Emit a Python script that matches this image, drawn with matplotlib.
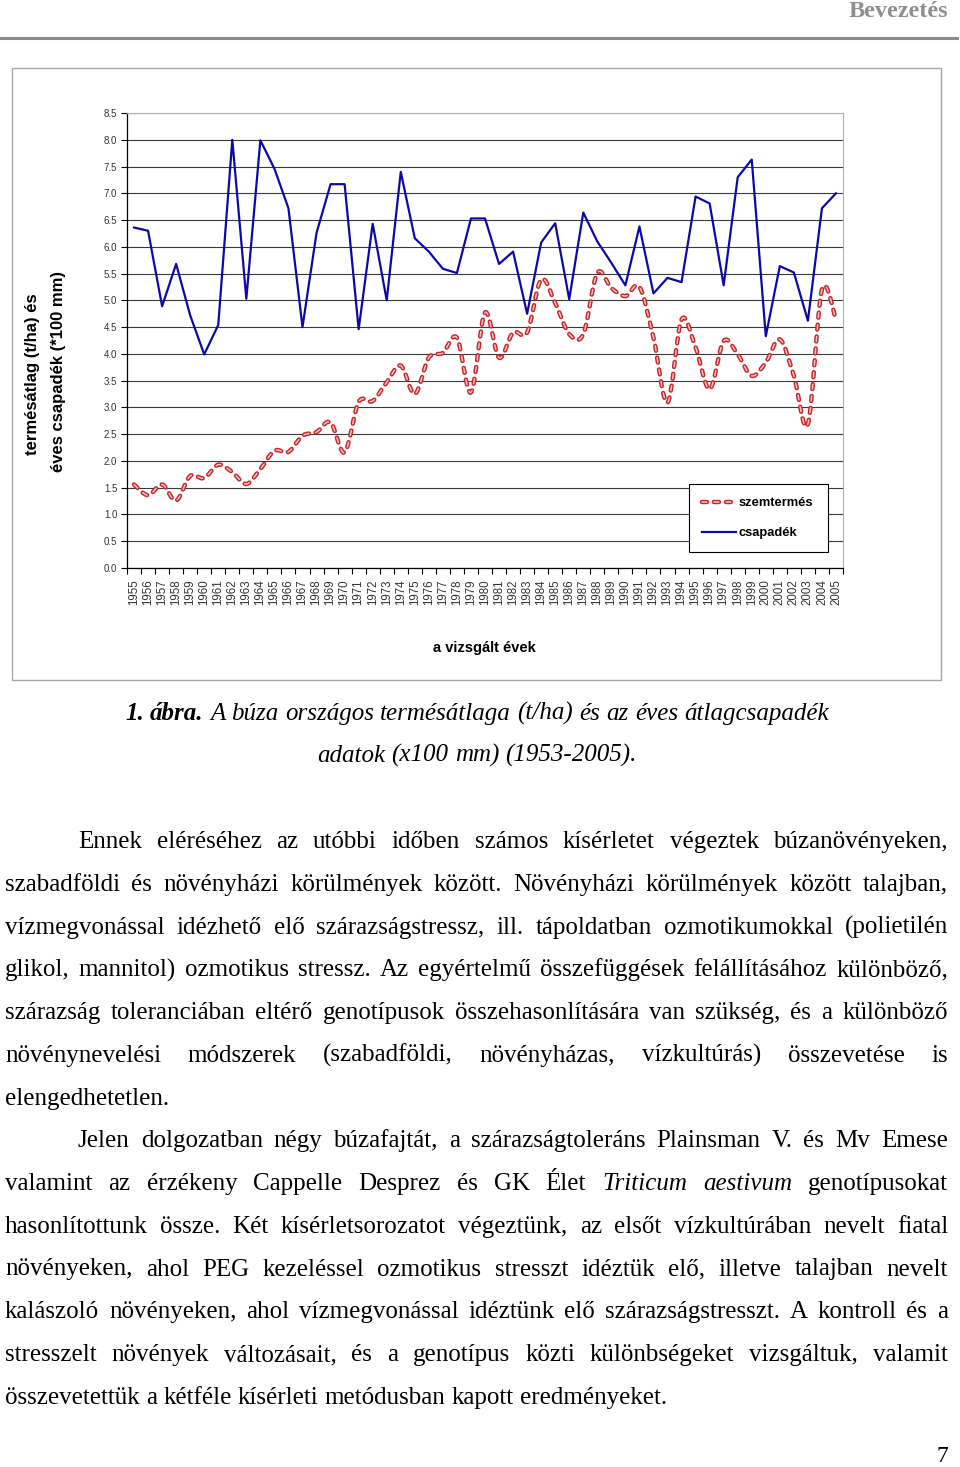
import numpy as np
import matplotlib.pyplot as plt
import matplotlib.patheffects as pe
from matplotlib.path import Path
from matplotlib.patches import PathPatch, Rectangle
from matplotlib.lines import Line2D

plt.rcParams['lines.scale_dashes'] = False

# --- adatok ---
years = list(range(1955, 2006))
csapadek = [6.36, 6.30, 4.89, 5.68, 4.72, 3.99, 4.54, 8.00, 5.03, 7.99,
            7.46, 6.72, 4.50, 6.26, 7.17, 7.17, 4.46, 6.43, 5.00, 7.40,
            6.16, 5.91, 5.59, 5.51, 6.53, 6.53, 5.68, 5.91, 4.75, 6.08,
            6.44, 5.02, 6.64, 6.10, 5.70, 5.28, 6.38, 5.13, 5.42, 5.34,
            6.94, 6.81, 5.28, 7.30, 7.63, 4.33, 5.64, 5.52, 4.62, 6.72,
            7.00]
szemtermes = [1.56, 1.36, 1.56, 1.26, 1.72, 1.68, 1.93, 1.79, 1.57, 1.85,
              2.19, 2.17, 2.47, 2.54, 2.72, 2.16, 3.10, 3.12, 3.47, 3.78,
              3.25, 3.93, 4.02, 4.30, 3.28, 4.77, 3.93, 4.40, 4.40, 5.39,
              4.95, 4.37, 4.37, 5.51, 5.23, 5.08, 5.25, 4.30, 3.09, 4.64,
              4.12, 3.34, 4.24, 3.99, 3.59, 3.84, 4.27, 3.59, 2.69, 5.20,
              4.64]
yticks = np.arange(0, 8.51, 0.5)

caption = [
    [("1.", "bi"), ("ábra.", "bi"), ("A", "i"), ("búza", "i"), ("országos", "i"),
     ("termésátlaga", "i"), ("(t/ha)", "i"), ("és", "i"), ("az", "i"), ("éves", "i"),
     ("átlagcsapadék", "i")],
    [("adatok", "i"), ("(x100", "i"), ("mm)", "i"), ("(1953-2005).", "i")],
]
body = [
    ("Ennek eléréséhez az utóbbi időben számos kísérletet végeztek búzanövényeken,", True, True),
    ("szabadföldi és növényházi körülmények között. Növényházi körülmények között talajban,", False, True),
    ("vízmegvonással idézhető elő szárazságstressz, ill. tápoldatban ozmotikumokkal (polietilén", False, True),
    ("glikol, mannitol) ozmotikus stressz. Az egyértelmű összefüggések felállításához különböző,", False, True),
    ("szárazság toleranciában eltérő genotípusok összehasonlítására van szükség, és a különböző", False, True),
    ("növénynevelési módszerek (szabadföldi, növényházas, vízkultúrás) összevetése is", False, True),
    ("elengedhetetlen.", False, False),
    ("Jelen dolgozatban négy búzafajtát, a szárazságtoleráns Plainsman V. és Mv Emese", True, True),
    ("valamint az érzékeny Cappelle Desprez és GK Élet _Triticum _aestivum genotípusokat", False, True),
    ("hasonlítottunk össze. Két kísérletsorozatot végeztünk, az elsőt vízkultúrában nevelt fiatal", False, True),
    ("növényeken, ahol PEG kezeléssel ozmotikus stresszt idéztük elő, illetve talajban nevelt", False, True),
    ("kalászoló növényeken, ahol vízmegvonással idéztünk elő szárazságstresszt. A kontroll és a", False, True),
    ("stresszelt növények változásait, és a genotípus közti különbségeket vizsgáltuk, valamit", False, True),
    ("összevetettük a kétféle kísérleti metódusban kapott eredményeket.", False, False),
]

W, H, DPI = 960, 1467, 100
SERIF = 'Liberation Serif'
SANS = 'Liberation Sans'

fig = plt.figure(figsize=(W / DPI, H / DPI), dpi=DPI)
fig.patch.set_facecolor('white')


def fx(px):
    return px / W


def fy(py):
    return 1 - py / H


# fejléc
fig.text(fx(948), fy(17), "Bevezetés", ha='right', va='baseline', family=SERIF,
         weight='bold', fontsize=17.5, color='#8f8f8f')
fig.add_artist(Line2D([0, fx(957)], [fy(37.5)] * 2, color='#8a8a8a', lw=2.2))

# grafikon keret
fig.add_artist(Rectangle((fx(12), fy(680)), fx(941) - fx(12), (680 - 68) / H,
                         transform=fig.transFigure, fill=False, ec='#a8a8a8', lw=1))

ax = fig.add_axes([fx(127), fy(568), fx(843) - fx(127), (568 - 113) / H])
ax.set_xlim(1954.5, 2005.5)
ax.set_ylim(0, 8.5)
ax.set_yticks(yticks)
ax.set_yticklabels([f"{v:.1f}" for v in yticks], family=SANS, fontsize=7, color='#333333')
ax.set_xticks(years)
ax.set_xticklabels([str(y) for y in years], rotation=90, family=SANS, fontsize=8.3,
                   color='#333333')
ax.set_xticks(np.arange(1954.5, 2006, 1), minor=True)
ax.tick_params(axis='x', which='major', length=0, pad=8)
ax.tick_params(axis='x', which='minor', length=4, width=0.8, direction='out')
ax.tick_params(axis='y', length=4, width=0.8, direction='out', pad=3)
for sp in ['top', 'right']:
    ax.spines[sp].set_color('#b0b0b0')
    ax.spines[sp].set_linewidth(0.8)
for sp in ['left', 'bottom']:
    ax.spines[sp].set_color('black')
    ax.spines[sp].set_linewidth(0.9)
ax.grid(axis='y', color='#3a3a3a', lw=0.8)
ax.set_axisbelow(True)

# csapadék
ax.plot(years, csapadek, color='#0a0aa8', lw=1.6, zorder=3)


# szemtermés (simított vonal)
def smooth_path(x, y):
    pts = np.column_stack([x, y]).astype(float)
    n = len(pts)
    verts, codes = [pts[0]], [Path.MOVETO]
    for i in range(n - 1):
        p0 = pts[i - 1] if i > 0 else pts[i]
        p1, p2 = pts[i], pts[i + 1]
        p3 = pts[i + 2] if i + 2 < n else pts[i + 1]
        verts += [p1 + (p2 - p0) / 6, p2 - (p3 - p1) / 6, p2]
        codes += [Path.CURVE4] * 3
    return Path(verts, codes)


red_fx = [pe.Stroke(linewidth=3.2, foreground='#c8262c', capstyle='round'), pe.Normal()]
ax.add_patch(PathPatch(smooth_path(years, szemtermes), fill=False, ec='#f3c4c4', lw=1.1,
                       linestyle=(0, (3.6, 5.0)), capstyle='round',
                       path_effects=red_fx, zorder=4))

h_red = Line2D([], [], color='#f3c4c4', lw=1.1, linestyle=(0, (3.6, 5.0)),
               dash_capstyle='round')
h_blue = Line2D([], [], color='#0a0aa8', lw=1.6)
leg = ax.legend([h_red, h_blue], ["szemtermés", "csapadék"], loc='lower left',
                bbox_to_anchor=(0.785, 0.035, 0.194, 0.15), mode='expand',
                borderaxespad=0, fancybox=False, edgecolor='black', framealpha=1,
                borderpad=1.0, labelspacing=1.4, handlelength=2.6, handletextpad=0.2,
                prop={'family': SANS, 'weight': 'bold', 'size': 9.3})
leg.get_frame().set_linewidth(0.8)
leg.get_lines()[0].set_path_effects(red_fx)

fig.text(fx(33), fy(374), "termésátlag (t/ha) és", rotation=90, ha='center', va='center',
         family=SANS, fontsize=12, weight='bold')
fig.text(fx(58), fy(372), "éves csapadék (*100 mm)", rotation=90, ha='center', va='center',
         family=SANS, fontsize=12, weight='bold')
fig.text(fx(484), fy(648), "a vizsgált évek", ha='center', va='center', family=SANS,
         fontsize=10.5, weight='bold')

# szöveg
renderer = fig.canvas.get_renderer()
FS = 18


def place_words(words, base, x0, x1, mode):
    arts = []
    for w, st in words:
        arts.append(fig.text(0, fy(base), w, family=SERIF, fontsize=FS, va='baseline',
                             style='italic' if 'i' in st else 'normal',
                             weight='bold' if 'b' in st else 'normal'))
    widths = [a.get_window_extent(renderer).width for a in arts]
    space = FS * DPI / 72 * 0.25
    if mode == 'justify' and len(arts) > 1:
        gap = (x1 - x0 - sum(widths)) / (len(arts) - 1)
        start = x0
    else:
        gap = space
        total = sum(widths) + space * (len(arts) - 1)
        start = x0 if mode == 'left' else (x0 + x1 - total) / 2
    x = start
    for a, w in zip(arts, widths):
        a.set_x(fx(x))
        x += w + gap


for i, line in enumerate(caption):
    place_words(line, 720 + 42 * i, 0, 954, 'center')

for i, (txt, indent, just) in enumerate(body):
    words = [(w[1:], 'i') if w.startswith('_') else (w, '') for w in txt.split(' ')]
    place_words(words, 848 + 42.75 * i, 78 if indent else 5, 948,
                'justify' if just else 'left')

fig.text(fx(942), fy(1457), "7", ha='center', va='center', family=SERIF, fontsize=17)

fig.savefig("out.png", dpi=DPI)
